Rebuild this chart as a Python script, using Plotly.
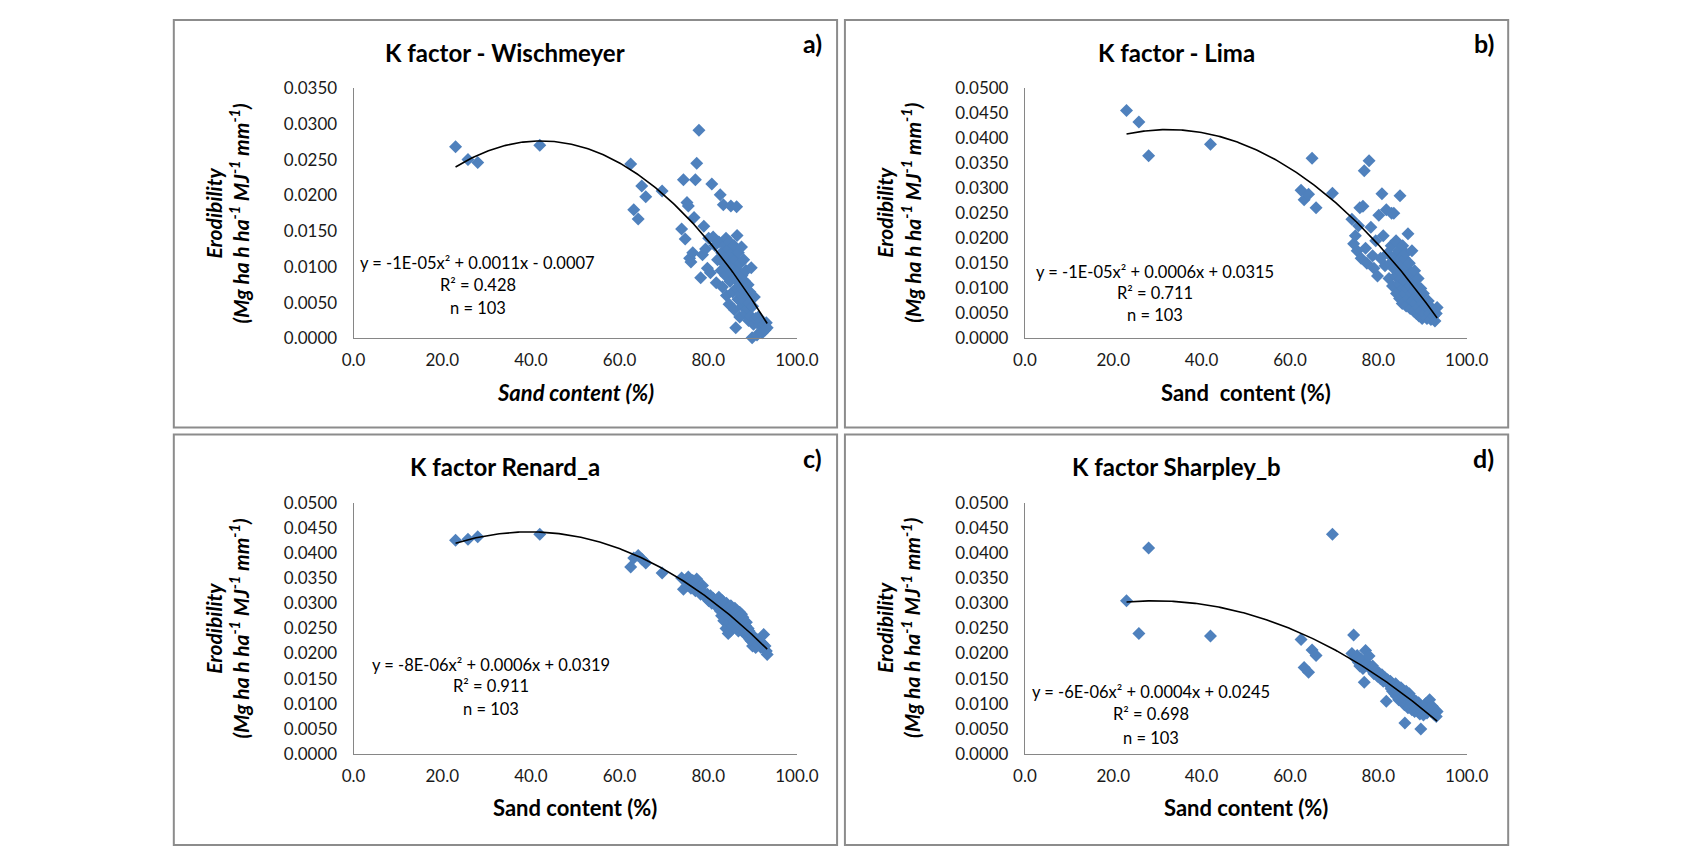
import numpy as np
import plotly.graph_objects as go

# ---------------- data ----------------
sand = [
    23.0, 25.8, 28.0, 42.0, 62.5, 63.2, 64.2, 65.0, 65.9, 69.6,
    74.0, 74.4, 74.8, 75.2, 75.5, 75.8, 76.1, 76.5, 76.8, 77.1,
    77.4, 77.9, 78.3, 78.7, 79.0, 79.4, 79.8, 80.1, 80.5, 80.8,
    81.1, 81.5, 81.8, 82.1, 82.4, 82.7, 82.9, 83.0, 83.2, 83.4,
    83.5, 83.7, 83.9, 84.0, 84.1, 84.3, 84.5, 84.6, 84.7, 84.8,
    84.9, 85.0, 85.1, 85.3, 85.4, 85.5, 85.6, 85.8, 85.9, 86.0,
    86.1, 86.2, 86.3, 86.4, 86.5, 86.6, 86.7, 86.8, 87.0, 87.1,
    87.2, 87.3, 87.5, 87.6, 87.7, 87.8, 88.0, 88.1, 88.2, 88.4,
    88.5, 88.6, 88.8, 89.0, 89.1, 89.2, 89.4, 89.6, 89.7, 89.9,
    90.0, 90.2, 90.4, 90.7, 91.0, 91.3, 91.6, 91.9, 92.2, 92.5,
    92.8, 93.1, 93.3]

k_wischmeyer = [
    0.0268, 0.0250, 0.0246, 0.0270, 0.0244, 0.0180, 0.0167, 0.0213, 0.0198, 0.0206,
    0.0153, 0.0222, 0.0139, 0.0190, 0.0185, 0.0112, 0.0107, 0.0120, 0.0169, 0.0222,
    0.0245, 0.0291, 0.0085, 0.0117, 0.0157, 0.0125, 0.0098, 0.0140, 0.0092, 0.0216,
    0.0142, 0.0130, 0.0078, 0.0110, 0.0135, 0.0201, 0.0095, 0.0120, 0.0072, 0.0187,
    0.0105, 0.0130, 0.0088, 0.0140, 0.0060, 0.0115, 0.0098, 0.0125, 0.0048, 0.0135,
    0.0080, 0.0108, 0.0185, 0.0092, 0.0120, 0.0065, 0.0100, 0.0130, 0.0040, 0.0085,
    0.0110, 0.0015, 0.0070, 0.0184, 0.0144, 0.0095, 0.0055, 0.0120, 0.0078, 0.0030,
    0.0105, 0.0062, 0.0128, 0.0088, 0.0045, 0.0070, 0.0110, 0.0052, 0.0080, 0.0035,
    0.0095, 0.0060, 0.0042, 0.0075, 0.0025, 0.0050, 0.0065, 0.0031, 0.0099, 0.0001,
    0.0045, 0.0020, 0.0058, 0.0028, 0.0005, 0.0030, 0.0018, 0.0025, 0.0008, 0.0020,
    0.0012, 0.0022, 0.0015]

k_lima = [
    0.0455, 0.0432, 0.0365, 0.0388, 0.0296, 0.0277, 0.0288, 0.0360, 0.0261, 0.0290,
    0.0238, 0.0189, 0.0205, 0.0175, 0.0225, 0.0261, 0.0160, 0.0264, 0.0335, 0.0180,
    0.0150, 0.0355, 0.0222, 0.0165, 0.0140, 0.0195, 0.0125, 0.0246, 0.0160, 0.0289,
    0.0205, 0.0145, 0.0257, 0.0170, 0.0120, 0.0150, 0.0185, 0.0250, 0.0105, 0.0140,
    0.0250, 0.0165, 0.0125, 0.0195, 0.0090, 0.0150, 0.0175, 0.0110, 0.0135, 0.0080,
    0.0285, 0.0160, 0.0120, 0.0145, 0.0070, 0.0185, 0.0100, 0.0130, 0.0160, 0.0090,
    0.0115, 0.0170, 0.0065, 0.0140, 0.0100, 0.0125, 0.0209, 0.0080, 0.0150, 0.0105,
    0.0060, 0.0130, 0.0090, 0.0175, 0.0075, 0.0115, 0.0055, 0.0095, 0.0135, 0.0070,
    0.0105, 0.0050, 0.0085, 0.0120, 0.0062, 0.0045, 0.0080, 0.0100, 0.0055, 0.0040,
    0.0070, 0.0090, 0.0050, 0.0065, 0.0040, 0.0075, 0.0050, 0.0038, 0.0060, 0.0045,
    0.0035, 0.0050, 0.0062]

k_renard_a = [
    0.0425, 0.0427, 0.0432, 0.0437, 0.0372, 0.0390, 0.0395, 0.0388, 0.0380, 0.0360,
    0.0350, 0.0328, 0.0345, 0.0335, 0.0352, 0.0340, 0.0330, 0.0345, 0.0338, 0.0325,
    0.0348, 0.0330, 0.0318, 0.0335, 0.0322, 0.0312, 0.0318, 0.0305, 0.0315, 0.0300,
    0.0310, 0.0298, 0.0305, 0.0292, 0.0312, 0.0285, 0.0298, 0.0275, 0.0305, 0.0290,
    0.0265, 0.0295, 0.0280, 0.0250, 0.0300, 0.0285, 0.0240, 0.0272, 0.0292, 0.0262,
    0.0280, 0.0245, 0.0295, 0.0270, 0.0282, 0.0255, 0.0288, 0.0265, 0.0275, 0.0290,
    0.0258, 0.0280, 0.0268, 0.0250, 0.0285, 0.0262, 0.0275, 0.0245, 0.0270, 0.0282,
    0.0255, 0.0268, 0.0278, 0.0245, 0.0262, 0.0272, 0.0250, 0.0265, 0.0240, 0.0255,
    0.0245, 0.0262, 0.0238, 0.0250, 0.0232, 0.0245, 0.0228, 0.0240, 0.0225, 0.0235,
    0.0215, 0.0230, 0.0222, 0.0212, 0.0228, 0.0218, 0.0225, 0.0212, 0.0220, 0.0238,
    0.0215, 0.0205, 0.0198]

k_sharpley_b = [
    0.0305, 0.0240, 0.0410, 0.0235, 0.0228, 0.0172, 0.0163, 0.0207, 0.0196, 0.0437,
    0.0200, 0.0237, 0.0190, 0.0196, 0.0182, 0.0175, 0.0188, 0.0170, 0.0143, 0.0206,
    0.0180, 0.0195, 0.0168, 0.0175, 0.0160, 0.0165, 0.0155, 0.0162, 0.0150, 0.0158,
    0.0145, 0.0152, 0.0105, 0.0148, 0.0138, 0.0145, 0.0130, 0.0142, 0.0125, 0.0138,
    0.0132, 0.0120, 0.0140, 0.0128, 0.0115, 0.0135, 0.0122, 0.0108, 0.0130, 0.0118,
    0.0125, 0.0112, 0.0132, 0.0120, 0.0105, 0.0128, 0.0115, 0.0122, 0.0098, 0.0062,
    0.0118, 0.0108, 0.0125, 0.0112, 0.0100, 0.0118, 0.0092, 0.0110, 0.0120, 0.0102,
    0.0095, 0.0112, 0.0105, 0.0088, 0.0100, 0.0110, 0.0095, 0.0102, 0.0085, 0.0098,
    0.0105, 0.0090, 0.0098, 0.0085, 0.0102, 0.0092, 0.0080, 0.0050, 0.0095, 0.0085,
    0.0092, 0.0078, 0.0088, 0.0100, 0.0082, 0.0090, 0.0108, 0.0085, 0.0095, 0.0080,
    0.0088, 0.0075, 0.0085]

titles = ["K factor - Wischmeyer", "K factor - Lima", "K factor Renard_a", "K factor Sharpley_b"]
panel_tags = ["a)", "b)", "c)", "d)"]
equations = ["y = -1E-05x² + 0.0011x - 0.0007",
             "y = -1E-05x² + 0.0006x + 0.0315",
             "y = -8E-06x² + 0.0006x + 0.0319",
             "y = -6E-06x² + 0.0004x + 0.0245"]
r_squared = ["0.428", "0.711", "0.911", "0.698"]
n_label = "n = 103"
y_max = [0.035, 0.05, 0.05, 0.05]
x_titles = ["<b><i>Sand content (%)</i></b>", "<b>Sand\u00a0 content (%)</b>",
            "<b>Sand content (%)</b>", "<b>Sand content (%)</b>"]
y_title = "<b><i>Erodibility</i></b><br><b><i>(Mg ha h ha<sup>-1</sup> MJ<sup>-1</sup> mm<sup>-1</sup>)</i></b>"
x_ticks = [0, 20, 40, 60, 80, 100]

series = [k_wischmeyer, k_lima, k_renard_a, k_sharpley_b]
for s in series:
    assert len(s) == len(sand), len(s)

# ---------------- layout geometry (page pixels) ----------------
W, H = 1692, 864
OFF = 8                      # default body margin of the page
FW, FH = W - 2 * OFF, H - 2 * OFF
FONT = "Lato"
BLUE = "#4F81BD"

def px(x):
    return (x - OFF) / FW

def py(y):
    return 1 - (y - OFF) / FH

boxes = [(165, 9, 842, 427), (850, 9, 1527, 427), (165, 434, 842, 855), (850, 434, 1527, 855)]
plot_x = [(348.5, 801), (1033.7, 1484.7), (348.5, 801), (1033.7, 1484.7)]
plot_y = [(78.8, 335.6), (78.8, 335.6), (503.9, 761.8), (503.9, 761.8)]
eq_pos = [(475, 258, 281, 304), (1167, 267, 289, 312), (489, 670, 692, 716), (1162, 698, 721, 745)]

fig = go.Figure()
annotations = []
shapes = []
layout_axes = {}

for i in range(4):
    sfx = "" if i == 0 else str(i + 1)
    xa, ya = "x" + sfx, "y" + sfx
    ys = series[i]
    fig.add_trace(go.Scatter(
        x=sand, y=ys, mode="markers", xaxis=xa, yaxis=ya, cliponaxis=False,
        marker=dict(symbol="diamond", size=10, color=BLUE, line=dict(width=0)),
        showlegend=False, hoverinfo="x+y"))
    coef = np.polyfit(sand, ys, 2)
    xs = np.linspace(min(sand), max(sand), 200)
    fig.add_trace(go.Scatter(
        x=xs, y=np.polyval(coef, xs), mode="lines", xaxis=xa, yaxis=ya,
        line=dict(color="black", width=1.6), showlegend=False, hoverinfo="skip"))

    x0, x1 = plot_x[i]
    y0, y1 = plot_y[i]
    layout_axes["xaxis" + sfx] = dict(
        domain=[px(x0), px(x1)], range=[0, 100], anchor=ya,
        tickvals=x_ticks, tickformat=".1f", ticks="", showgrid=False, zeroline=False,
        showline=True, linecolor="#868686", linewidth=1,
        tickfont=dict(family=FONT, size=17, color="#1a1a1a"), ticklabelstandoff=6)
    layout_axes["yaxis" + sfx] = dict(
        domain=[py(y1), py(y0)], range=[0, y_max[i]], anchor=xa,
        dtick=0.005, tick0=0, tickformat=".4f", ticks="", showgrid=False, zeroline=False,
        showline=True, linecolor="#868686", linewidth=1,
        tickfont=dict(family=FONT, size=17, color="#1a1a1a"), ticklabelstandoff=12)

    bx0, by0, bx1, by1 = boxes[i]
    shapes.append(dict(type="rect", xref="paper", yref="paper",
                       x0=px(bx0), x1=px(bx1), y0=py(by1), y1=py(by0),
                       line=dict(color="#8c8c8c", width=2), fillcolor="rgba(0,0,0,0)"))

    annotations.append(dict(text="<b>" + titles[i] + "</b>", x=px((bx0 + bx1) / 2), y=py(by0 + 33),
                            xref="paper", yref="paper", showarrow=False,
                            xanchor="center", yanchor="middle",
                            font=dict(family=FONT, size=24, color="black")))
    annotations.append(dict(text="<b>" + panel_tags[i] + "</b>", x=px(bx1 - 25), y=py(by0 + 24),
                            xref="paper", yref="paper", showarrow=False,
                            xanchor="center", yanchor="middle",
                            font=dict(family=FONT, size=25, color="black")))
    annotations.append(dict(text=x_titles[i], x=px((x0 + x1) / 2), y=py(y1 + 55),
                            xref="paper", yref="paper", showarrow=False,
                            xanchor="center", yanchor="middle",
                            font=dict(family=FONT, size=22, color="black")))
    annotations.append(dict(text=y_title, x=px(x0 - 129), y=py((y0 + y1) / 2),
                            xref="paper", yref="paper", showarrow=False, textangle=-90,
                            xanchor="center", yanchor="middle",
                            font=dict(family=FONT, size=21, color="black")))
    ex, e1, e2, e3 = eq_pos[i]
    for txt, yy in [(equations[i], e1), ("R² = " + r_squared[i], e2), (n_label, e3)]:
        annotations.append(dict(text=txt, x=px(ex), y=py(yy), xref="paper", yref="paper",
                                showarrow=False, xanchor="center", yanchor="middle",
                                font=dict(family=FONT, size=16.5, color="black")))

fig.update_layout(
    width=FW, height=FH, margin=dict(l=0, r=0, t=0, b=0),
    paper_bgcolor="white", plot_bgcolor="white",
    showlegend=False, annotations=annotations, shapes=shapes,
    **layout_axes)

fig.write_html("out.html")
